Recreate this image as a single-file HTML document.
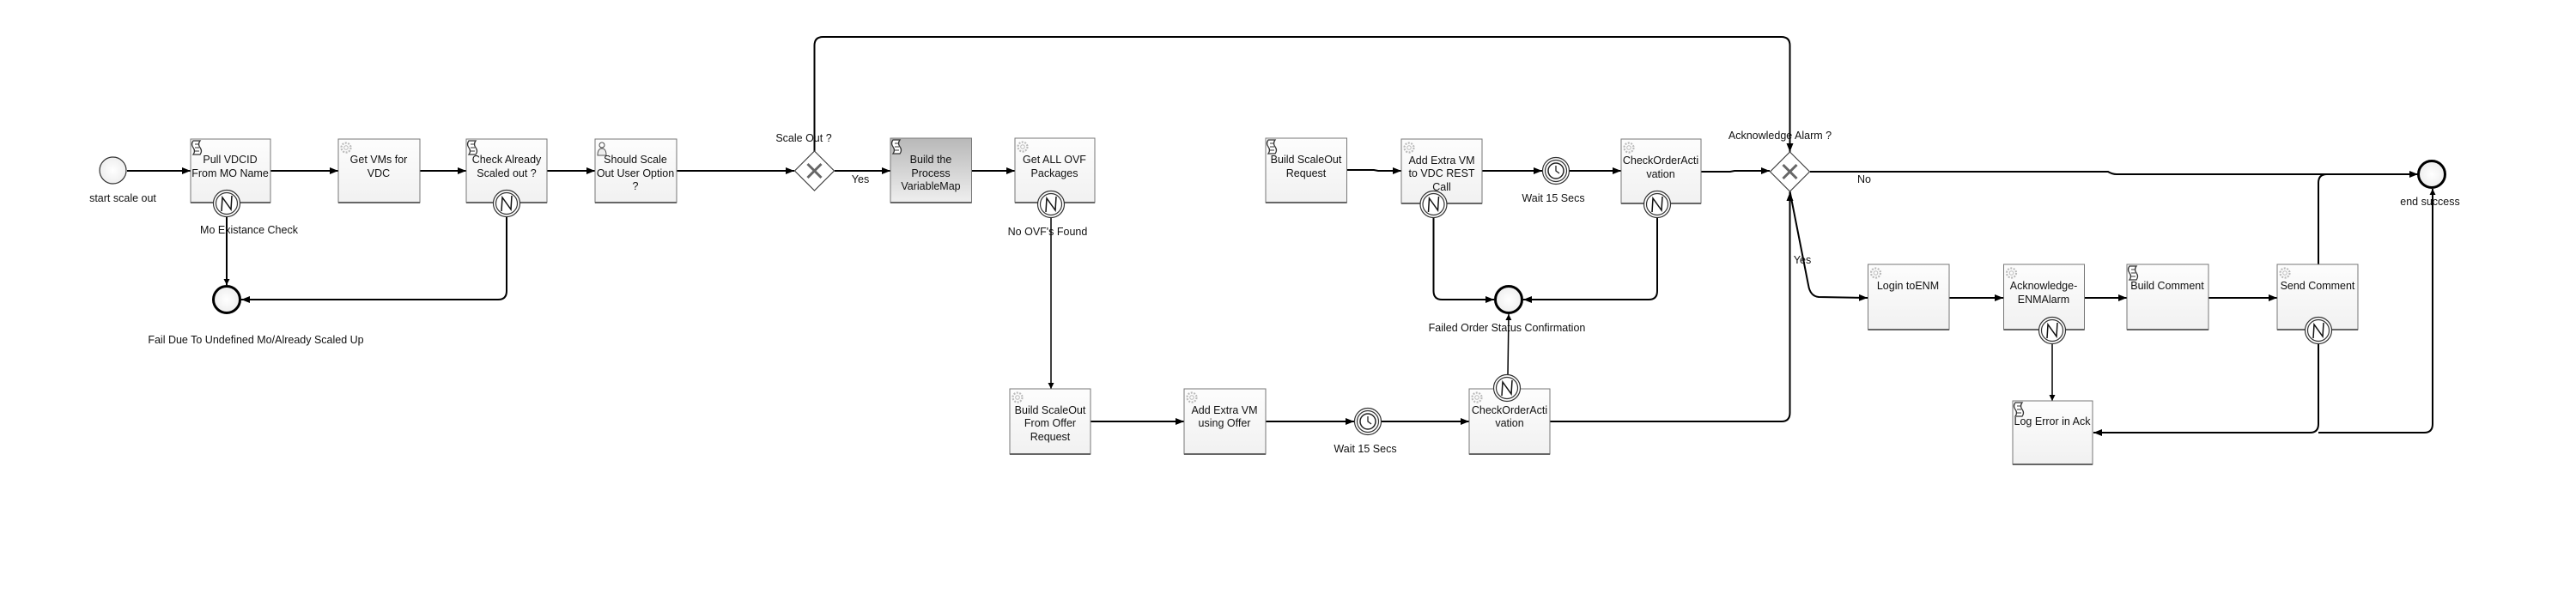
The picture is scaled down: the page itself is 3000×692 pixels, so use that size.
<!DOCTYPE html>
<html><head><meta charset="utf-8"><style>
html,body{margin:0;padding:0;background:#fff}
svg{display:block}
text{font-family:"Liberation Sans",sans-serif;font-size:12.5px;fill:#111}
</style></head><body>
<svg width="3000" height="692" viewBox="0 0 3000 692" xmlns="http://www.w3.org/2000/svg">
<defs>
<marker id="a" viewBox="0 0 10 10" refX="10" refY="5" markerWidth="7" markerHeight="7" orient="auto" markerUnits="userSpaceOnUse"><path d="M0,0 L10,5 L0,10 z" fill="#000"/></marker>
<marker id="b" viewBox="0 0 10 10" refX="10" refY="5" markerWidth="10" markerHeight="10" orient="auto" markerUnits="userSpaceOnUse"><path d="M0,1 L10,5 L0,9 z" fill="#000"/></marker>
<linearGradient id="g" x1="0" y1="0" x2="0" y2="1"><stop offset="0" stop-color="#fdfdfd"/><stop offset="1" stop-color="#f1f1f1"/></linearGradient>
<linearGradient id="gg" x1="0" y1="0" x2="0" y2="1"><stop offset="0" stop-color="#b8b8b8"/><stop offset="1" stop-color="#efefef"/></linearGradient>
<radialGradient id="cg"><stop offset="0" stop-color="#fff"/><stop offset="1" stop-color="#eee"/></radialGradient>
<g id="bnd"><circle r="15.5" fill="#fff" stroke="#333" stroke-width="1.2"/><circle r="12.5" fill="#fff" stroke="#333" stroke-width="1.2"/><path d="M-6,9 L-5,-7 L5,7 L6,-9" fill="none" stroke="#111" stroke-width="1.5"/></g>
<g id="tmr"><circle r="15.5" fill="#fff" stroke="#333" stroke-width="1.2"/><circle r="12.5" fill="#fff" stroke="#333" stroke-width="1.2"/><circle r="9" fill="#fff" stroke="#222" stroke-width="1.5"/><path d="M0,-6 L0,0 L4,3" fill="none" stroke="#222" stroke-width="1.3"/></g>
<g id="scr"><path d="M3,2 h8 q-3,4 0,8 q3,4 0,8 h-8 q3,-4 0,-8 q-3,-4 0,-8z" fill="#fff" stroke="#333" stroke-width="1.3"/><path d="M5,6 h5 M5,10 h5 M5,14 h5" stroke="#333" stroke-width="1"/></g>
<g id="gear"><circle cx="9" cy="10" r="5.5" fill="none" stroke="#bbb" stroke-width="2.2" stroke-dasharray="2 1.5"/><circle cx="9" cy="10" r="2.3" fill="none" stroke="#bbb" stroke-width="1"/></g>
</defs>

<g fill="none" stroke="#000" stroke-width="2">
<!-- top row -->
<line x1="148" y1="199" x2="222" y2="199" marker-end="url(#b)"/>
<line x1="315" y1="199" x2="394" y2="199" marker-end="url(#b)"/>
<line x1="489" y1="199" x2="543" y2="199" marker-end="url(#b)"/>
<line x1="637" y1="199" x2="693" y2="199" marker-end="url(#b)"/>
<line x1="788" y1="199" x2="925" y2="199" marker-end="url(#b)"/>
<line x1="972" y1="199" x2="1037" y2="199" marker-end="url(#b)"/>
<line x1="1132" y1="199" x2="1182" y2="199" marker-end="url(#b)"/>
<path d="M948.5,176 V53 Q948.5,43 958.5,43 H2074.5 Q2084.5,43 2084.5,53 V177" marker-end="url(#b)"/>
<line x1="264" y1="253" x2="264" y2="332" marker-end="url(#a)"/>
<path d="M590,253 V339 Q590,349 580,349 H281" marker-end="url(#b)"/>
<line x1="1224" y1="254" x2="1224" y2="453" stroke-width="1.5" marker-end="url(#a)"/>
<line x1="1270" y1="491" x2="1379" y2="491" marker-end="url(#b)"/>
<line x1="1474" y1="491" x2="1577" y2="491" marker-end="url(#b)"/>
<line x1="1609" y1="491" x2="1711" y2="491" marker-end="url(#b)"/>
<path d="M1805,491 H2074.5 Q2084.5,491 2084.5,481 V224" marker-end="url(#b)"/>
<line x1="1756" y1="437" x2="1757" y2="366" stroke-width="1.5" marker-end="url(#a)"/>
<path d="M1568,198 H1600 L1605,199 H1632" marker-end="url(#b)"/>
<line x1="1726" y1="199" x2="1796" y2="199" marker-end="url(#b)"/>
<line x1="1828" y1="199" x2="1888" y2="199" marker-end="url(#b)"/>
<path d="M1981,200 H2015 L2020,199 H2061" marker-end="url(#b)"/>
<path d="M1669.5,254 V339 Q1669.5,349 1679.5,349 H1740" marker-end="url(#b)"/>
<path d="M1930,254 V339 Q1930,349 1920,349 H1774" marker-end="url(#b)"/>
<path d="M2108,200 H2455 Q2460,203 2465,203 H2816" marker-end="url(#b)"/>
<path d="M2084.5,223 L2106,332 Q2108,345 2118,346 L2175,347" marker-end="url(#b)"/>
<line x1="2270" y1="347" x2="2333" y2="347" marker-end="url(#b)"/>
<line x1="2428" y1="347" x2="2477" y2="347" marker-end="url(#b)"/>
<line x1="2572" y1="347" x2="2652" y2="347" marker-end="url(#b)"/>
<path d="M2700,308 V213 Q2700,203 2710,203 H2800"/>
<line x1="2390" y1="401" x2="2390" y2="467" stroke-width="1.5" marker-end="url(#a)"/>
<path d="M2700,401 V494 Q2700,504 2690,504 H2438" marker-end="url(#b)"/>
<path d="M2700,504 H2823 Q2833,504 2833,494 V220" marker-end="url(#a)"/>
</g>

<!-- events -->
<circle cx="131.5" cy="198.5" r="15.5" fill="url(#cg)" stroke="#333" stroke-width="1.2"/>
<text x="143" y="235" text-anchor="middle">start scale out</text>
<circle cx="264" cy="349" r="15.5" fill="url(#cg)" stroke="#000" stroke-width="3"/>
<text x="298" y="400" text-anchor="middle">Fail Due To Undefined Mo/Already Scaled Up</text>
<circle cx="1757" cy="349" r="15.5" fill="url(#cg)" stroke="#000" stroke-width="3"/>
<circle cx="2832" cy="203" r="15.5" fill="url(#cg)" stroke="#000" stroke-width="3"/>
<text x="2830" y="239" text-anchor="middle">end success</text>

<!-- gateways -->
<g transform="translate(948.5,199)"><path d="M0,-23 L23,0 L0,23 L-23,0z" fill="#fff" stroke="#444" stroke-width="1.2"/><path d="M-8,-8 L8,8 M8,-8 L-8,8" stroke="#666" stroke-width="3"/></g>
<text x="936" y="165" text-anchor="middle">Scale Out ?</text>
<text x="1002" y="213" text-anchor="middle">Yes</text>
<g transform="translate(2084.5,200)"><path d="M0,-23 L23,0 L0,23 L-23,0z" fill="#fff" stroke="#444" stroke-width="1.2"/><path d="M-8,-8 L8,8 M8,-8 L-8,8" stroke="#666" stroke-width="3"/></g>
<text x="2073" y="162" text-anchor="middle">Acknowledge Alarm ?</text>
<text x="2171" y="213" text-anchor="middle">No</text>
<text x="2099" y="307" text-anchor="middle">Yes</text>

<!-- tasks -->
<g stroke="#777" stroke-width="1">
<rect x="222" y="162" width="93" height="74" fill="url(#g)"/>
<rect x="394" y="162" width="95" height="74" fill="url(#g)"/>
<rect x="543" y="162" width="94" height="74" fill="url(#g)"/>
<rect x="693" y="162" width="95" height="74" fill="url(#g)"/>
<rect x="1037" y="161" width="94.5" height="75" fill="url(#gg)"/>
<rect x="1182" y="161" width="93" height="75" fill="url(#g)"/>
<rect x="1474" y="161" width="94.5" height="75" fill="url(#g)"/>
<rect x="1632" y="162" width="94" height="75" fill="url(#g)"/>
<rect x="1888" y="162" width="93" height="75" fill="url(#g)"/>
<rect x="1176" y="453" width="94" height="76" fill="url(#g)"/>
<rect x="1379" y="453" width="95" height="76" fill="url(#g)"/>
<rect x="1711" y="453" width="94" height="76" fill="url(#g)"/>
<rect x="2175.5" y="308" width="94.5" height="76" fill="url(#g)"/>
<rect x="2333.5" y="308" width="94" height="76" fill="url(#g)"/>
<rect x="2477" y="308" width="95" height="76" fill="url(#g)"/>
<rect x="2652" y="308" width="94" height="76" fill="url(#g)"/>
<rect x="2344" y="467" width="93" height="74" fill="url(#g)"/>
</g>
<g stroke="#666" stroke-width="2">
<path d="M222,236H315 M394,236H489 M543,236H637 M693,236H788 M1037,236H1131.5 M1182,236H1275 M1474,236H1568.5 M1632,237H1726 M1888,237H1981 M1176,529H1270 M1379,529H1474 M1711,529H1805 M2175.5,384H2270 M2333.5,384H2427.5 M2477,384H2572 M2652,384H2746 M2344,541H2437"/>
</g>

<!-- icons -->
<use href="#scr" x="222" y="162"/>
<use href="#gear" x="394" y="162"/>
<use href="#scr" x="543" y="162"/>
<g transform="translate(695,164)"><circle cx="6" cy="5" r="3" fill="#fff" stroke="#444"/><path d="M1,17 Q1,9 6,9 Q11,9 11,17z" fill="#eee" stroke="#555"/></g>
<use href="#scr" x="1037" y="161"/>
<use href="#gear" x="1182" y="161"/>
<use href="#scr" x="1474" y="161"/>
<use href="#gear" x="1632" y="162"/>
<use href="#gear" x="1888" y="162"/>
<use href="#gear" x="1176" y="453"/>
<use href="#gear" x="1379" y="453"/>
<use href="#gear" x="1711" y="453"/>
<use href="#gear" x="2175.5" y="308"/>
<use href="#gear" x="2333.5" y="308"/>
<use href="#scr" x="2477" y="308"/>
<use href="#gear" x="2652" y="308"/>
<use href="#scr" x="2344" y="467"/>

<!-- task text -->
<g text-anchor="middle">
<text x="268" y="190">Pull VDCID</text><text x="268" y="206">From MO Name</text>
<text x="441" y="190">Get VMs for</text><text x="441" y="206">VDC</text>
<text x="590" y="190">Check Already</text><text x="590" y="206">Scaled out ?</text>
<text x="740" y="190">Should Scale</text><text x="740" y="206">Out User Option</text><text x="740" y="221">?</text>
<text x="1084" y="190">Build the</text><text x="1084" y="206">Process</text><text x="1084" y="221">VariableMap</text>
<text x="1228" y="190">Get ALL OVF</text><text x="1228" y="206">Packages</text>
<text x="1521" y="190">Build ScaleOut</text><text x="1521" y="206">Request</text>
<text x="1679" y="191">Add Extra VM</text><text x="1679" y="206">to VDC REST</text><text x="1679" y="222">Call</text>
<text x="1934" y="191">CheckOrderActi</text><text x="1934" y="207">vation</text>
<text x="1223" y="482">Build ScaleOut</text><text x="1223" y="497">From Offer</text><text x="1223" y="513">Request</text>
<text x="1426" y="482">Add Extra VM</text><text x="1426" y="497">using Offer</text>
<text x="1758" y="482">CheckOrderActi</text><text x="1758" y="497">vation</text>
<text x="2222" y="337">Login toENM</text>
<text x="2380" y="337">Acknowledge-</text><text x="2380" y="353">ENMAlarm</text>
<text x="2524" y="337">Build Comment</text>
<text x="2699" y="337">Send Comment</text>
<text x="2390" y="495">Log Error in Ack</text>
</g>

<!-- boundary events -->
<use href="#bnd" x="264" y="237"/>
<use href="#bnd" x="590" y="237"/>
<use href="#bnd" x="1224" y="238"/>
<use href="#bnd" x="1669.5" y="238"/>
<use href="#bnd" x="1930" y="238"/>
<use href="#bnd" x="1755" y="452"/>
<use href="#bnd" x="2390" y="385"/>
<use href="#bnd" x="2700" y="385"/>
<use href="#tmr" x="1812" y="199"/>
<use href="#tmr" x="1593" y="491"/>

<g text-anchor="middle">
<text x="290" y="272">Mo Existance Check</text>
<text x="1220" y="274">No OVF's Found</text>
<text x="1809" y="235">Wait 15 Secs</text>
<text x="1590" y="527">Wait 15 Secs</text>
<text x="1755" y="386">Failed Order Status Confirmation</text>
</g>
</svg>
</body></html>
